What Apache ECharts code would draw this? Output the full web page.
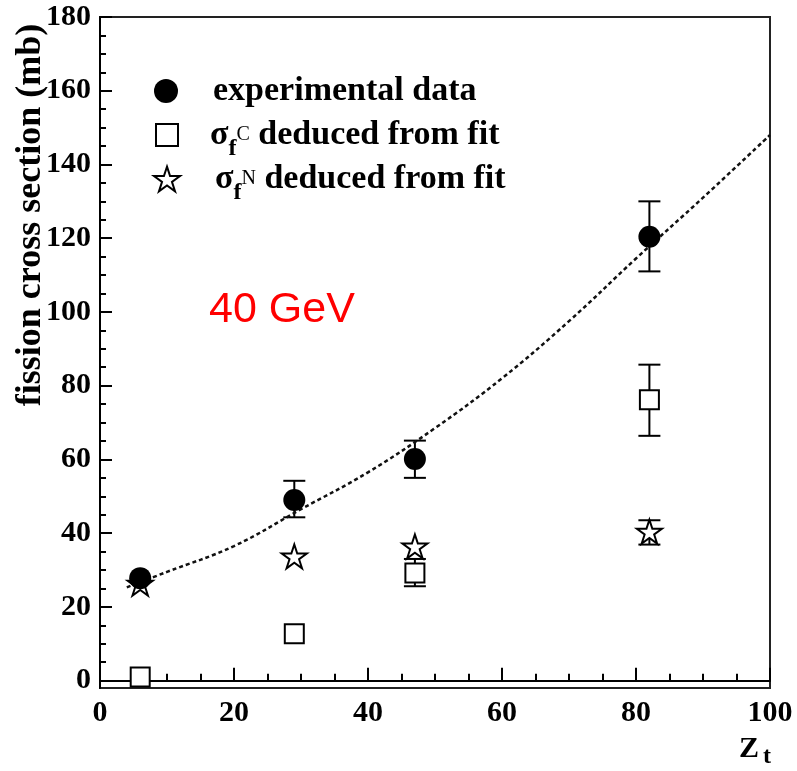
<!DOCTYPE html>
<html><head><meta charset="utf-8">
<script src="https://cdn.jsdelivr.net/npm/echarts@6/dist/echarts.min.js"></script>
<style>html,body{margin:0;padding:0;background:#fff}#c{width:797px;height:771px}</style>
</head><body><div id="c"></div>
<script>
// ---- data ----
const expZ = [6, 29, 47, 82];
const expVal = [27.8, 49, 60.1, 120.4];
const expLow = [null, 44.3, 55, 111];
const expHigh = [null, 54.2, 65.1, 130];

const cZ = [6, 29, 47, 82];
const cVal = [1, 12.7, 29.2, 76.2];
const cLow = [null, null, 25.6, 66.4];
const cHigh = [null, null, 33, 85.7];

const nZ = [6, 29, 47, 82];
const nVal = [26.3, 33.7, 36.4, 40.4];
const nLow = [null, null, null, 36.9];
const nHigh = [null, null, null, 43.5];

const fitZ = [4, 10, 20, 30, 40, 50, 60, 70, 80, 90, 100];
const fitVal = [25.3, 29.5, 36.5, 46.5, 56.5, 68.5, 82, 97.5, 114.5, 131, 148];

const yMajorTicks = [0, 20, 40, 60, 80, 100, 120, 140, 160, 180];
const yMinorTicks = [5, 10, 15, 25, 30, 35, 45, 50, 55, 65, 70, 75, 85, 90, 95, 105, 110, 115, 125, 130, 135, 145, 150, 155, 165, 170, 175];

const nameExp = 'experimental data';
const nameC = 'sigmaC';
const nameN = 'sigmaN';

// ---- build ----
function pts(xs, ys) { return xs.map((x, i) => [x, ys[i]]); }
function errs(xs, lo, hi) {
  const out = [];
  xs.forEach((x, i) => { if (lo[i] != null && hi[i] != null) out.push([x, lo[i], hi[i]]); });
  return out;
}
const errData = [].concat(errs(expZ, expLow, expHigh), errs(cZ, cLow, cHigh), errs(nZ, nLow, nHigh));

const STAR = 'path://M0,-10L2.245,-3.09L9.511,-3.09L3.633,1.18L5.878,8.09L0,3.82L-5.878,8.09L-3.633,1.18L-9.511,-3.09L-2.245,-3.09Z';
const SERIF = '"Liberation Serif","DejaVu Serif",serif';
const LH = 52;

const legendRich = {
  sp1: {width: 30, lineHeight: LH},
  sp2: {width: 27, lineHeight: LH},
  sp3: {width: 30, lineHeight: LH},
  t: {fontFamily: SERIF, fontWeight: 'bold', fontSize: 34, lineHeight: LH, color: '#000'},
  s: {fontFamily: SERIF, fontWeight: 'bold', fontSize: 34, lineHeight: LH, color: '#000'},
  sub: {fontFamily: SERIF, fontWeight: 'bold', fontSize: 24, lineHeight: 24, verticalAlign: 'bottom', color: '#000'},
  sup: {fontFamily: SERIF, fontSize: 20, lineHeight: 20, verticalAlign: 'middle', color: '#000'}
};
function legendText(n) {
  if (n === nameExp) return '{sp1|}{t|experimental data}';
  if (n === nameC) return '{sp2|}{s|σ}{sub|f}{sup|C}{t| deduced from fit}';
  return '{sp3|}{s|σ}{sub|f}{sup|N}{t| deduced from fit}';
}
function oneLegend(name, left, top, size) {
  return {
    orient: 'vertical', left: left, top: top, padding: 0,
    itemWidth: size, itemHeight: size,
    data: [name], formatter: legendText,
    textStyle: {color: '#000', lineHeight: LH, fontSize: 34, rich: legendRich}
  };
}

const chart = echarts.init(document.getElementById('c'), null, {renderer: 'canvas'});
chart.setOption({
  animation: false,
  backgroundColor: '#fff',
  grid: {left: 100, right: 27, top: 17, bottom: 83, show: true, borderColor: '#222', borderWidth: 2, backgroundColor: 'transparent'},
  xAxis: {
    type: 'value', min: 0, max: 100, interval: 20,
    axisLine: {show: true, lineStyle: {color: '#000', width: 2}},
    axisTick: {inside: true, length: 13, lineStyle: {color: '#000', width: 2}},
    minorTick: {show: true, splitNumber: 4, length: 7, lineStyle: {color: '#000', width: 2}},
    axisLabel: {margin: 10, color: '#000', fontFamily: SERIF, fontWeight: 'bold', fontSize: 30, lineHeight: 30},
    splitLine: {show: false}
  },
  yAxis: [{
    type: 'value', min: -2, max: 180,
    axisLine: {show: true, lineStyle: {color: '#000', width: 2}},
    axisTick: {inside: true, length: 12, customValues: yMajorTicks, lineStyle: {color: '#000', width: 2}},
    axisLabel: {margin: 9, color: '#000', fontFamily: SERIF, fontWeight: 'bold', fontSize: 30, customValues: yMajorTicks},
    splitLine: {show: false}
  }, {
    type: 'value', min: -2, max: 180, position: 'left',
    axisLine: {show: false},
    axisTick: {inside: true, length: 6, customValues: yMinorTicks, lineStyle: {color: '#000', width: 2}},
    axisLabel: {show: false, customValues: yMinorTicks},
    splitLine: {show: false}
  }],
  legend: [
    oneLegend(nameExp, 154, 65, 24),
    oneLegend(nameC, 155, 109, 22),
    oneLegend(nameN, 153, 153, 26)
  ],
  series: [
    {
      type: 'custom', name: 'errors', z: 1, xAxisIndex: 0, yAxisIndex: 0,
      data: errData,
      encode: {x: 0, y: [1, 2]},
      renderItem: function (params, api) {
        const x = api.value(0);
        const p1 = api.coord([x, api.value(1)]);
        const p2 = api.coord([x, api.value(2)]);
        const hw = 11;
        const st = {stroke: '#000', lineWidth: 2};
        return {type: 'group', children: [
          {type: 'line', shape: {x1: p1[0], y1: p1[1], x2: p2[0], y2: p2[1]}, style: st},
          {type: 'line', shape: {x1: p1[0] - hw, y1: p1[1], x2: p1[0] + hw, y2: p1[1]}, style: st},
          {type: 'line', shape: {x1: p2[0] - hw, y1: p2[1], x2: p2[0] + hw, y2: p2[1]}, style: st}
        ]};
      }
    },
    {
      type: 'line', name: 'fit', z: 2, smooth: 0.4, symbol: 'none',
      data: pts(fitZ, fitVal),
      lineStyle: {color: '#111', width: 2.5, type: [4, 3]}
    },
    {
      type: 'scatter', name: nameC, z: 3, symbol: 'rect', symbolSize: 19,
      data: pts(cZ, cVal),
      itemStyle: {color: '#fff', borderColor: '#000', borderWidth: 2, opacity: 1}
    },
    {
      type: 'scatter', name: nameN, z: 4, symbol: STAR, symbolSize: 25, symbolKeepAspect: true,
      data: pts(nZ, nVal),
      itemStyle: {color: '#fff', borderColor: '#000', borderWidth: 2, opacity: 1}
    },
    {
      type: 'scatter', name: nameExp, z: 5, symbol: 'circle', symbolSize: 22,
      data: pts(expZ, expVal),
      itemStyle: {color: '#000', opacity: 1}
    }
  ],
  graphic: [
    {type: 'text', x: 31, y: 215, rotation: Math.PI / 2,
     style: {text: 'fission cross section (mb)', font: 'bold 36px ' + SERIF, fill: '#000', align: 'center', verticalAlign: 'middle'}},
    {type: 'text', x: 739, y: 749,
     style: {text: 'Z', font: 'bold 30px ' + SERIF, fill: '#000', align: 'left', verticalAlign: 'middle'}},
    {type: 'text', x: 763, y: 757,
     style: {text: 't', font: 'bold 24px ' + SERIF, fill: '#000', align: 'left', verticalAlign: 'middle'}},
    {type: 'text', x: 209, y: 310,
     style: {text: '40 GeV', font: '43px "Liberation Sans", Arial, sans-serif', fill: '#ff0000', align: 'left', verticalAlign: 'middle'}}
  ]
});
</script>
</body></html>
